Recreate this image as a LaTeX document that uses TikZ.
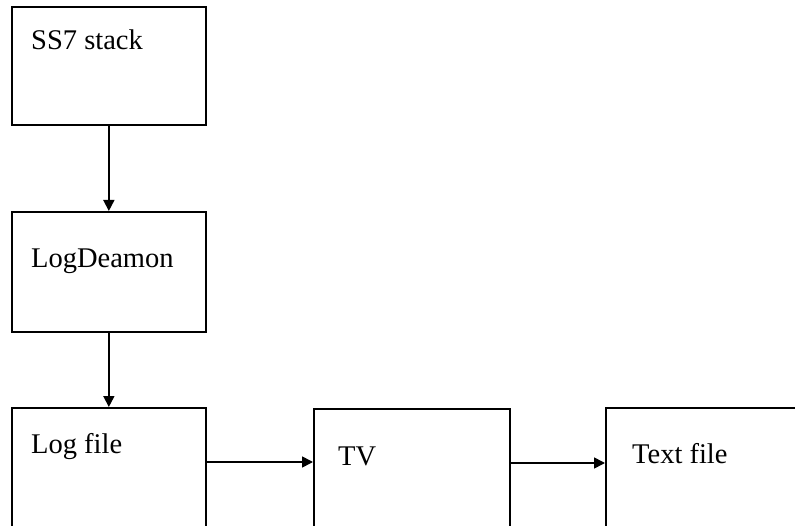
\documentclass[tikz,border=0pt]{standalone}
\usepackage{fontspec}
\setmainfont{Liberation Serif}
\usetikzlibrary{arrows.meta,calc}

\begin{document}
\begin{tikzpicture}[x=1pt,y=-1pt,
  box/.style={draw=black, line width=1.7pt, rectangle, inner sep=0pt,
              anchor=north west},
  lbl/.style={anchor=base west, inner sep=0pt, text=black,
              font=\fontsize{28.5}{33}\selectfont},
  flow/.style={draw=black, line width=1.7pt,
               -{Triangle[length=11pt,width=11pt]}}]

  % page frame
  \useasboundingbox (0,0) rectangle (795,526);
  \fill[white] (0,0) rectangle (795,526);
  \clip (0,0) rectangle (795,526);

  % boxes
  \node[box, minimum width=194pt, minimum height=118pt] (ss7) at (11,6) {};
  \node[box, minimum width=194pt, minimum height=120pt] (ld)  at (11,211) {};
  \node[box, minimum width=194pt, minimum height=140pt] (lf)  at (11,407) {};
  \node[box, minimum width=196pt, minimum height=140pt] (tv)  at (313,408) {};
  \node[box, minimum width=200pt, minimum height=140pt] (tf)  at (605,407) {};

  % labels
  \node[lbl] (t1) at ($(ss7.north west)+(20,44)$) {SS7 stack};
  \node[lbl] (t2) at ($(ld.north west)+(20,57)$) {LogDeamon};
  \node[lbl] (t3) at ($(lf.north west)+(20,46)$) {Log file};
  \node[lbl] (t4) at ($(tv.north west)+(25,57)$) {TV};
  \node[lbl] (t5) at ($(tf.north west)+(27,56)$) {Text file};

  % connectors
  \draw[flow] (ss7.south) -- (ld.north);
  \draw[flow] (ld.south) -- (ld.south |- lf.north);
  \coordinate (p1) at ($(lf.north east)+(0,55)$);
  \coordinate (p2) at ($(tv.north east)+(0,55)$);
  \draw[flow] (p1) -- (p1 -| tv.west);
  \draw[flow] (p2) -- (p2 -| tf.west);
\end{tikzpicture}
\end{document}
